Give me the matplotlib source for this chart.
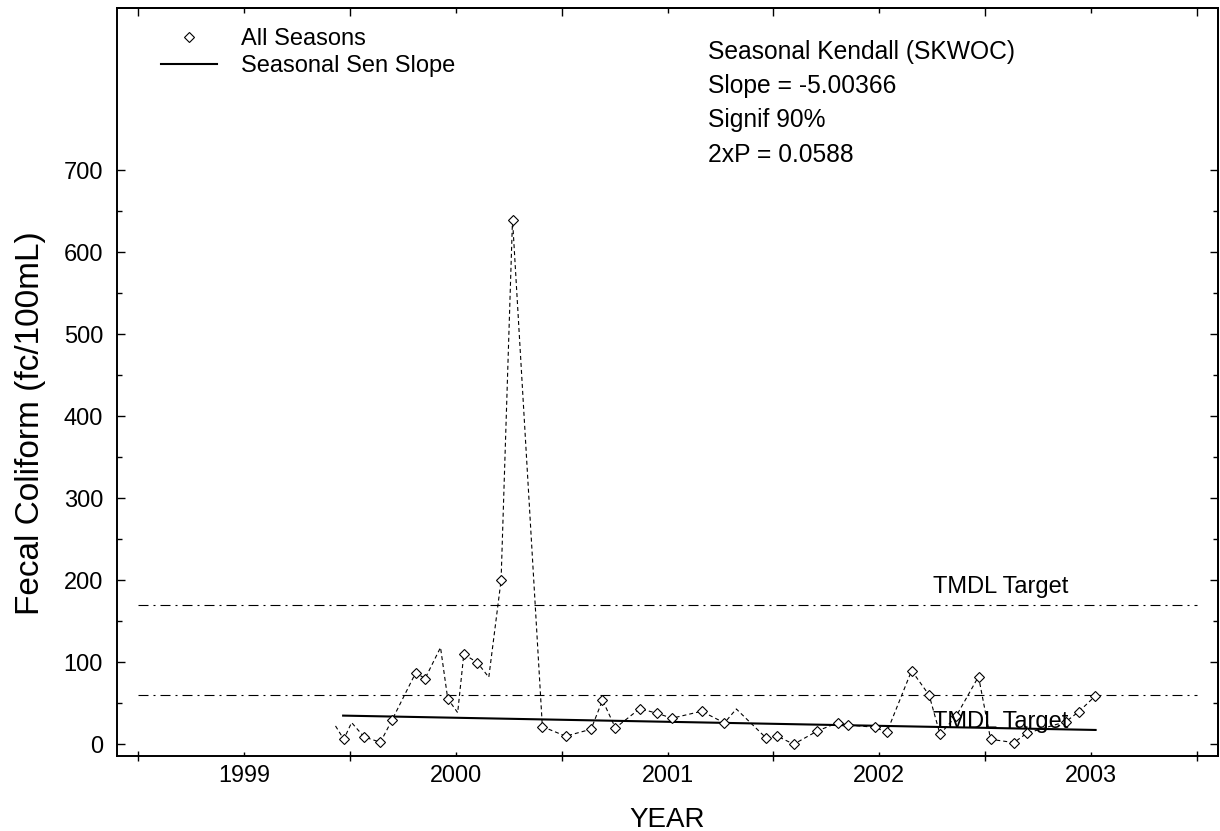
import matplotlib
matplotlib.use('Agg')
import matplotlib.pyplot as plt
from matplotlib.lines import Line2D

plt.rcParams['font.family'] = ['Liberation Sans', 'DejaVu Sans']

# ---- data (decimal year, fecal coliform fc/100mL) ----
years = [1999.432, 1999.471, 1999.508, 1999.567, 1999.644, 1999.698, 1999.811,
         1999.855, 1999.928, 1999.962, 2000.009, 2000.038, 2000.102, 2000.156,
         2000.214, 2000.268, 2000.409, 2000.519, 2000.639, 2000.693, 2000.754,
         2000.869, 2000.950, 2001.021, 2001.161, 2001.269, 2001.325, 2001.467,
         2001.519, 2001.596, 2001.708, 2001.805, 2001.851, 2001.978, 2002.036,
         2002.153, 2002.236, 2002.287, 2002.364, 2002.469, 2002.526, 2002.636,
         2002.697, 2002.882, 2002.943, 2003.021]
values = [22.3, 6.0, 26.4, 8.9, 2.4, 29.0, 87.3,
          80.0, 118.0, 55.6, 38.5, 110.0, 99.5, 81.7,
          200.0, 640.0, 21.5, 9.8, 18.3, 53.7, 19.9,
          43.4, 37.8, 31.7, 40.2, 26.0, 43.0, 7.3,
          9.8, 0.0, 16.2, 26.3, 23.5, 20.7, 14.6,
          89.8, 59.7, 12.2, 34.5, 82.5, 6.0, 2.0,
          13.4, 27.6, 39.8, 59.0]
has_marker = [0, 1, 0, 1, 1, 1, 1,
              1, 0, 1, 0, 1, 1, 0,
              1, 1, 1, 1, 1, 1, 1,
              1, 1, 1, 1, 1, 0, 1,
              1, 1, 1, 1, 1, 1, 1,
              1, 1, 1, 1, 1, 1, 1,
              1, 1, 1, 1]

sen_years = [1999.468, 2003.022]
sen_values = [34.9, 17.4]

tmdl_levels = [170, 60]
tmdl_line_span = [1998.5, 2003.5]
tmdl_label_year = 2002.254
tmdl_label_values = [184.0, 19.5]
tmdl_label = "TMDL Target"

year_labels = [1999, 2000, 2001, 2002, 2003]
half_year_ticks = [1998.5, 1999.5, 2000.5, 2001.5, 2002.5, 2003.5]
y_major = [0, 100, 200, 300, 400, 500, 600, 700]
y_minor = [50, 150, 250, 350, 450, 550, 650]

stats_lines = ["Seasonal Kendall (SKWOC)", "Slope = -5.00366",
               "Signif 90%", "2xP = 0.0588"]

# ---- figure ----
W, H = 1220, 831
fig = plt.figure(figsize=(W / 100, H / 100), dpi=100)
ax = fig.add_axes([117 / W, 1 - 755.7 / H, 1101 / W, 747.7 / H])

ax.set_xlim(1998.4, 2003.6)
ax.set_ylim(-14, 898)

# data line + markers
ax.plot(years, values, color='black', lw=0.8, ls=(0, (3.6, 2.7)), zorder=3)
mx = [x for x, m in zip(years, has_marker) if m]
my = [y for y, m in zip(values, has_marker) if m]
ax.plot(mx, my, ls='none', marker='D', ms=5.0, mfc='white', mec='black',
        mew=0.8, zorder=4)

# Sen slope
ax.plot(sen_years, sen_values, color='black', lw=1.5, zorder=3)

# TMDL lines
for lev, lab_v in zip(tmdl_levels, tmdl_label_values):
    ax.plot(tmdl_line_span, [lev, lev], color='black', lw=0.8,
            ls=(0, (9, 4.5, 1.8, 4.5)), zorder=2)
    ax.text(tmdl_label_year, lab_v, tmdl_label, fontsize=17, ha='left',
            va='baseline', zorder=5)

# ticks
ax.set_xticks(year_labels)
ax.set_xticklabels([str(y) for y in year_labels])
ax.set_xticks(half_year_ticks, minor=True)
ax.set_yticks(y_major)
ax.set_yticks(y_minor, minor=True)

ax.tick_params(axis='x', which='major', direction='in', length=2.9, width=1.0,
               labelsize=16.8, pad=6)
ax.tick_params(axis='x', which='minor', direction='inout', length=7.9, width=1.0)
ax.tick_params(axis='y', which='major', direction='in', length=5.8, width=1.0,
               labelsize=17, pad=10)
ax.tick_params(axis='y', which='minor', direction='in', length=3.6, width=1.0)

for s in ax.spines.values():
    s.set_linewidth(1.4)

top = ax.secondary_xaxis('top')
top.set_xticks(half_year_ticks)
top.set_xticks(year_labels, minor=True)
top.tick_params(which='major', direction='in', length=5.8, width=1.0, labeltop=False)
top.tick_params(which='minor', direction='in', length=3.6, width=1.0)
top.spines['top'].set_linewidth(1.4)

right = ax.secondary_yaxis('right')
right.set_yticks(y_major)
right.set_yticks(y_minor, minor=True)
right.tick_params(which='major', direction='in', length=5.8, width=1.0, labelright=False)
right.tick_params(which='minor', direction='in', length=3.6, width=1.0)
right.spines['right'].set_linewidth(1.4)

# axis labels
ax.set_xlabel("YEAR", fontsize=20)
ax.set_ylabel("Fecal Coliform (fc/100mL)", fontsize=24)
ax.xaxis.set_label_coords(0.5, (755.7 - 807) / 747.7)
ax.yaxis.set_label_coords((46 - 117) / 1101, (755.7 - 423) / 747.7)

# legend
handles = [Line2D([], [], ls='none', marker='D', ms=5.0, mfc='white',
                  mec='black', mew=0.8),
           Line2D([], [], color='black', lw=1.5)]
ax.legend(handles, ["All Seasons", "Seasonal Sen Slope"], frameon=False,
          fontsize=17, loc='upper left', bbox_to_anchor=(161 / W, 1 - 28 / H),
          bbox_transform=fig.transFigure, borderpad=0, borderaxespad=0,
          handlelength=2.37, handletextpad=1.0, labelspacing=0.22)

# stats text
for txt, yc in zip(stats_lines, [58.5, 93.5, 127.5, 162.5]):
    fig.text(708 / W, 1 - yc / H, txt, fontsize=17.7, ha='left', va='baseline')

fig.savefig("out.png", dpi=100)
